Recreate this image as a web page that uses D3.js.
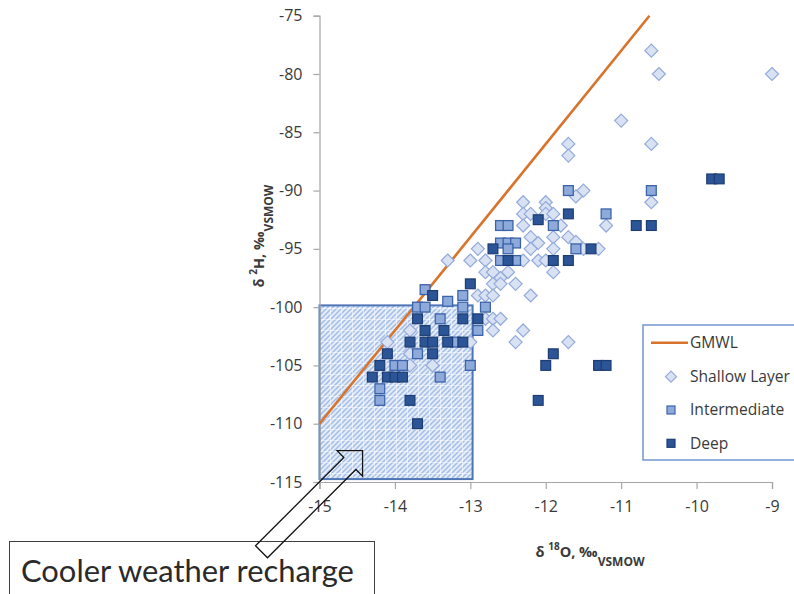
<!DOCTYPE html>
<html>
<head>
<meta charset="utf-8">
<script src="https://cdn.jsdelivr.net/npm/d3@7"></script>
<style>
  body { margin: 0; background: #fff; }
  svg { display: block; }
</style>
</head>
<body>
<svg id="chart" width="794" height="594"></svg>
<script>
// Axis ticks
const xTicks = [-15, -14, -13, -12, -11, -10, -9];
const yTicks = [-115, -110, -105, -100, -95, -90, -85, -80, -75];

// Global Meteoric Water Line endpoints [δ18O, δ2H]
const gmwl = [[-15, -110], [-10.625, -75]];

// Samples [δ18O, δ2H]
const shallowLayer = [
  [-10.6, -78], [-10.5, -80], [-9.0, -80], [-11.0, -84], [-11.7, -86], [-10.6, -86], [-11.7, -87],
  [-11.5, -90], [-11.6, -90.5], [-10.6, -91], [-11.2, -93],
  [-12.3, -91], [-12.0, -91], [-12.0, -91.5], [-12.3, -92], [-12.2, -92], [-12.0, -92], [-11.9, -92],
  [-12.3, -93], [-11.8, -93],
  [-12.2, -94], [-11.9, -94], [-11.7, -94], [-11.6, -94.4], [-12.1, -94.5],
  [-12.2, -95], [-11.9, -95], [-11.5, -95], [-11.3, -95], [-12.9, -95],
  [-13.3, -96], [-13.0, -96], [-12.8, -96], [-12.3, -96], [-12.1, -96], [-12.0, -96],
  [-12.8, -97], [-12.7, -97], [-12.5, -97], [-11.9, -97], [-12.6, -97.5],
  [-12.7, -98], [-12.6, -98], [-12.4, -98],
  [-12.2, -99], [-12.9, -99], [-12.8, -99], [-12.7, -99],
  [-12.8, -101], [-12.7, -101], [-12.6, -101], [-12.7, -102], [-12.3, -102],
  [-12.4, -103], [-11.7, -103],
  [-13.8, -102], [-14.1, -103], [-13.0, -103], [-13.8, -104], [-13.8, -105], [-13.5, -105]
];

const intermediate = [
  [-11.7, -90], [-10.6, -90], [-11.2, -92], [-11.9, -93], [-12.6, -93], [-12.5, -93],
  [-12.6, -94.5], [-12.5, -94.5], [-12.4, -94.5], [-12.5, -95], [-11.6, -95],
  [-12.6, -96], [-12.4, -96],
  [-13.6, -98.5], [-13.1, -99], [-13.3, -99.5], [-13.7, -100], [-13.6, -100], [-13.1, -100], [-12.8, -100],
  [-13.4, -101], [-12.9, -102], [-13.2, -103], [-13.7, -104], [-14.0, -105], [-13.9, -105],
  [-13.0, -105], [-13.4, -106], [-14.2, -107], [-14.2, -108]
];

const deep = [
  [-9.8, -89], [-9.7, -89], [-12.1, -92.5], [-11.7, -92], [-10.8, -93], [-10.6, -93],
  [-12.7, -95], [-11.4, -95], [-12.5, -96], [-11.9, -96], [-11.7, -96],
  [-13.0, -98], [-13.5, -99], [-13.7, -101], [-13.1, -101], [-12.9, -101],
  [-13.6, -102], [-13.35, -102],
  [-13.8, -103], [-13.6, -103], [-13.5, -103], [-13.3, -103], [-13.1, -103],
  [-14.1, -104], [-13.5, -104], [-14.2, -105],
  [-14.3, -106], [-14.1, -106], [-14.0, -106], [-13.9, -106],
  [-13.8, -108], [-13.7, -110],
  [-11.9, -104], [-12.0, -105], [-11.3, -105], [-11.2, -105], [-12.1, -108]
];

// Shaded recharge region in data units
const rechargeO = [-15, -12.97];
const rechargeH = [-114.75, -99.85];

const legendLabels = ["GMWL", "Shallow Layer", "Intermediate", "Deep"];

const C = {
  axis: "#a6a6a6",
  text: "#3a3a3a",
  gmwl: "#d8732c",
  shallowFill: "#d9e2f3", shallowStroke: "#93aadb",
  interFill: "#8eaadb", interStroke: "#3b63aa",
  deepFill: "#2c5597", deepStroke: "#1d3c72",
  zoneStroke: "#4e76b6"
};

const svg = d3.select("#chart");
const x = d3.scaleLinear().domain([-15, -9]).range([319.5, 772]);
const y = d3.scaleLinear().domain([-115, -75]).range([482, 15.7]);

// Hatch pattern for recharge zone: upward diagonal stripes plus a faint white grid
const defs = svg.append("defs");
const hatch = defs.append("pattern").attr("id", "hatch")
  .attr("patternUnits", "userSpaceOnUse").attr("width", 5).attr("height", 5);
hatch.append("rect").attr("width", 5).attr("height", 5).attr("fill", "#e4ecf8");
hatch.append("path").attr("d", "M-1,6 L6,-1 M-1,1 L1,-1 M4,6 L6,4")
  .attr("stroke", "#a3bde6").attr("stroke-width", 1.5);
const grid = defs.append("pattern").attr("id", "grid")
  .attr("patternUnits", "userSpaceOnUse").attr("width", 11).attr("height", 11);
grid.append("path").attr("d", "M0.5,0 V11 M0,0.5 H11")
  .attr("stroke", "#ffffff").attr("stroke-width", 1).attr("stroke-opacity", 0.5);

const zone = svg.append("g");
const zx = x(rechargeO[0]), zy = y(rechargeH[1]);
const zw = x(rechargeO[1]) - zx, zh = y(rechargeH[0]) - zy;
zone.append("rect").attr("x", zx).attr("y", zy).attr("width", zw).attr("height", zh)
  .attr("fill", "url(#hatch)");
zone.append("rect").attr("x", zx).attr("y", zy).attr("width", zw).attr("height", zh)
  .attr("fill", "url(#grid)");
zone.append("rect").attr("x", zx).attr("y", zy).attr("width", zw).attr("height", zh)
  .attr("fill", "none").attr("stroke", C.zoneStroke).attr("stroke-width", 2);

// Axes
const tickFont = "'Open Sans', sans-serif";
const yAxis = svg.append("g").attr("transform", `translate(${x(-15)},0)`)
  .call(d3.axisLeft(y).tickValues(yTicks).tickSize(6).tickPadding(11).tickFormat(d3.format("d")));
const xAxis = svg.append("g").attr("transform", `translate(0,${y(-115)})`)
  .call(d3.axisBottom(x).tickValues(xTicks).tickSize(7).tickPadding(12).tickFormat(d3.format("d")));
[xAxis, yAxis].forEach(g => {
  g.select(".domain").attr("stroke", C.axis).attr("stroke-width", 1.2);
  g.selectAll(".tick line").attr("stroke", C.axis).attr("stroke-width", 1.2);
  g.selectAll(".tick text").attr("fill", C.text).attr("font-family", tickFont).attr("font-size", 16)
    .text(d => String(d).replace("-", "-"));
});

// GMWL
svg.append("path").datum(gmwl)
  .attr("d", d3.line().x(d => x(d[0])).y(d => y(d[1])))
  .attr("fill", "none").attr("stroke", C.gmwl).attr("stroke-width", 2.6);

// Markers
const diamond = r => `M0,${-r} L${r},0 L0,${r} L${-r},0 Z`;
svg.append("g").selectAll("path").data(shallowLayer).join("path")
  .attr("transform", d => `translate(${x(d[0])},${y(d[1])})`)
  .attr("d", diamond(6.5))
  .attr("fill", C.shallowFill).attr("stroke", C.shallowStroke).attr("stroke-width", 1.2);

const sq = 9.8;
svg.append("g").selectAll("rect").data(intermediate).join("rect")
  .attr("x", d => x(d[0]) - sq / 2).attr("y", d => y(d[1]) - sq / 2)
  .attr("width", sq).attr("height", sq)
  .attr("fill", C.interFill).attr("stroke", C.interStroke).attr("stroke-width", 1.3);

svg.append("g").selectAll("rect").data(deep).join("rect")
  .attr("x", d => x(d[0]) - sq / 2).attr("y", d => y(d[1]) - sq / 2)
  .attr("width", sq).attr("height", sq)
  .attr("fill", C.deepFill).attr("stroke", C.deepStroke).attr("stroke-width", 1.2);

// Axis titles
const titleFont = "'Open Sans', sans-serif";
function isoTitle(g, sup, elem) {
  const t = g.append("text").attr("font-family", titleFont).attr("font-weight", 700)
    .attr("font-size", 14.5).attr("fill", C.text).attr("text-anchor", "middle");
  t.append("tspan").text("δ ");
  t.append("tspan").attr("font-size", 10).attr("baseline-shift", "super").text(sup);
  t.append("tspan").text(elem + ", ‰");
  t.append("tspan").attr("font-size", 12).attr("baseline-shift", "sub").text("VSMOW");
  return t;
}
isoTitle(svg.append("g").attr("transform", "translate(590,557)"), "18", "O");
isoTitle(svg.append("g").attr("transform", "translate(264,236) rotate(-90)"), "2", "H");

// Legend
const lg = svg.append("g");
lg.append("rect").attr("x", 643).attr("y", 325).attr("width", 200).attr("height", 135)
  .attr("fill", "#fff").attr("stroke", "#7196cf").attr("stroke-width", 1.5);
const rowY = [342.7, 376.7, 410, 443.3];
lg.append("line").attr("x1", 651).attr("x2", 688).attr("y1", rowY[0]).attr("y2", rowY[0])
  .attr("stroke", C.gmwl).attr("stroke-width", 2.6);
lg.append("path").attr("transform", `translate(671,${rowY[1]})`).attr("d", diamond(5.5))
  .attr("fill", C.shallowFill).attr("stroke", C.shallowStroke).attr("stroke-width", 1.2);
lg.append("rect").attr("x", 671 - 4).attr("y", rowY[2] - 4).attr("width", 8).attr("height", 8)
  .attr("fill", C.interFill).attr("stroke", C.interStroke).attr("stroke-width", 1.2);
lg.append("rect").attr("x", 671 - 4).attr("y", rowY[3] - 4).attr("width", 8).attr("height", 8)
  .attr("fill", C.deepFill).attr("stroke", C.deepStroke).attr("stroke-width", 1.2);
lg.selectAll("text.lab").data(legendLabels).join("text").attr("class", "lab")
  .attr("x", 690).attr("y", (d, i) => rowY[i]).attr("dy", "0.35em")
  .attr("font-family", tickFont).attr("font-size", 15.6).attr("fill", C.text)
  .text(d => d);

// Annotation box
const note = svg.append("g");
note.append("rect").attr("x", 9.5).attr("y", 541.5).attr("width", 365).attr("height", 70)
  .attr("fill", "#fff").attr("stroke", "#404040").attr("stroke-width", 1);
const noteText = note.append("text").attr("x", 21).attr("y", 582)
  .attr("font-family", "Lato, sans-serif").attr("font-size", 30).attr("fill", "#2a2a2a")
  .text("Cooler weather recharge");
const w = noteText.node().getComputedTextLength();
noteText.attr("font-size", 30 * 333 / w);

// Block arrow pointing into the recharge zone
svg.append("path")
  .attr("transform", "translate(362.6,450.7) rotate(-45)")
  .attr("d", "M0,0 L-18,-18 L-18,-8.5 L-143,-8.5 L-143,8.5 L-18,8.5 L-18,18 Z")
  .attr("fill", "none").attr("stroke", "#111").attr("stroke-width", 1.3)
  .attr("stroke-linejoin", "miter");
</script>
</body>
</html>
